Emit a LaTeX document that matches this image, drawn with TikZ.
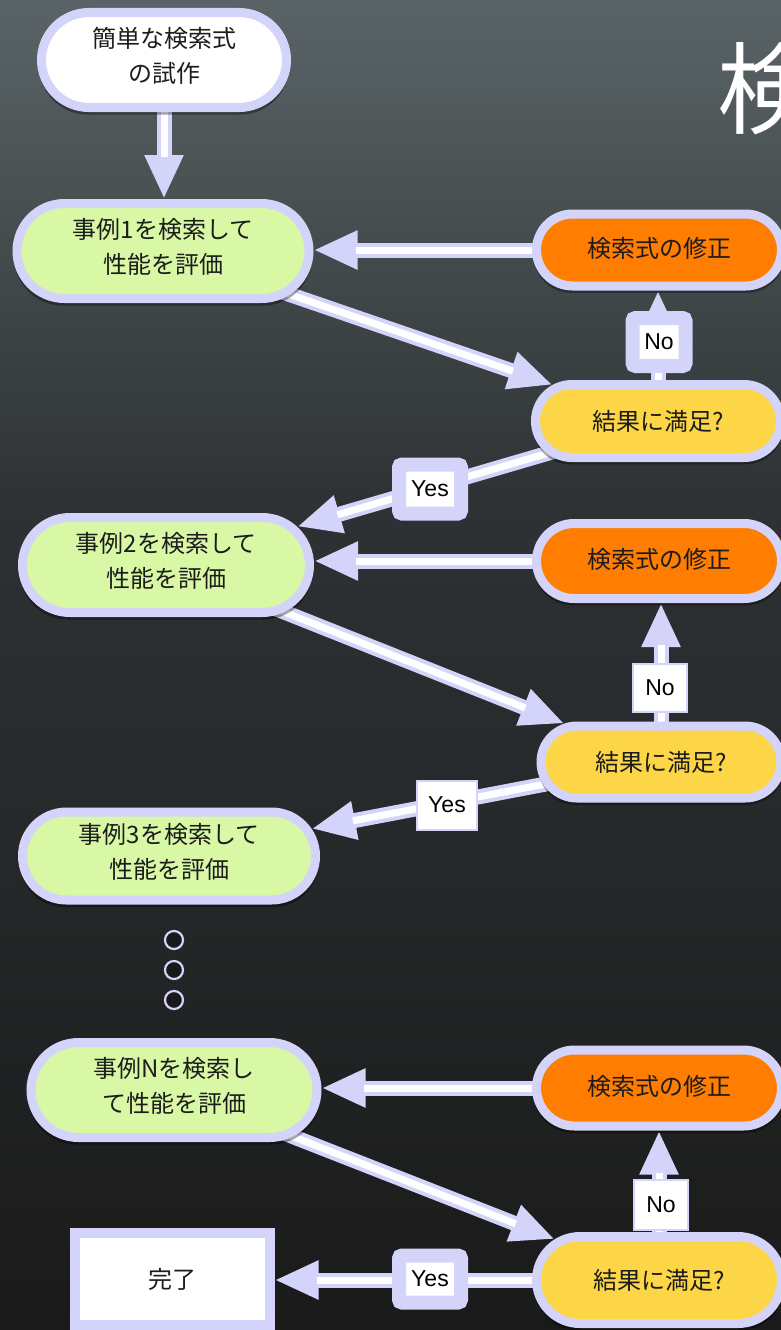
\documentclass[tikz,border=0pt]{standalone}
\usepackage{fontspec}
\setmainfont{Noto Sans CJK JP}
\newfontfamily\latfont{Liberation Sans}
\usetikzlibrary{shapes.misc,arrows.meta,shadows}
\definecolor{lav}{RGB}{212,212,250}
\definecolor{pgreen}{RGB}{216,248,166}
\definecolor{porange}{RGB}{255,125,0}
\definecolor{pyellow}{RGB}{252,214,70}
\definecolor{ink}{RGB}{28,28,28}
\definecolor{bgtop}{RGB}{90,100,102}
\definecolor{bgmid}{RGB}{46,50,52}
\definecolor{bgbot}{RGB}{26,26,26}
\pgfdeclarelayer{back}
\pgfdeclarelayer{links}
\pgfsetlayers{back,links,main}
\begin{document}
\begin{tikzpicture}[x=1pt,y=-1pt,
  shad/.style={general shadow={fill=black, opacity=0.35, shadow xshift=0pt, shadow yshift=-6pt, shadow scale=1.02}},
  pill/.style={rounded rectangle, draw=lav, line width=9pt, inner sep=0pt,
    align=center, text=ink, font=\fontsize{24}{35}\selectfont, shad},
  twoline/.style={text depth=11pt},
  oneline/.style={text depth=6pt},
  donebox/.style={rectangle, draw=lav, line width=10pt, fill=white, inner sep=0pt,
    text=ink, font=\fontsize{24}{35}\selectfont, minimum width=195pt, minimum height=92pt, shad},
  lblA/.style={rectangle, fill=white, draw=lav, line width=14pt, rounded corners=3pt,
    inner sep=0pt, text=black, font=\latfont\fontsize{23}{23}\selectfont},
  lblB/.style={rectangle, fill=white, draw=lav, line width=2pt,
    inner sep=0pt, text=black, font=\latfont\fontsize{23}{23}\selectfont},
  conn/.style={draw=lav, line width=15pt, shorten <=-12pt, -{Triangle[length=44pt,width=36pt]},
    postaction={draw=white, line width=7pt, -, shorten >=42pt}},
  dotc/.style={circle, draw=lav, line width=2.2pt, fill=black!90, minimum size=18pt, inner sep=0pt}
]
\useasboundingbox (0,0) rectangle (781,1330);
\begin{pgfonlayer}{back}
\fill[bgmid] (0,0) rectangle (781,1330);
\shade[top color=bgtop, bottom color=bgmid] (0,0) rectangle (781,500);
\shade[top color=bgmid, bottom color=bgbot] (0,500) rectangle (781,1330);
\end{pgfonlayer}

\node[anchor=base west, inner sep=0pt, text=white, font=\fontsize{100}{100}\selectfont] (title) at (717,126) {検};

\node[pill, twoline, fill=white, minimum width=245pt, minimum height=95pt] (start) at (164,60) {簡単な検索式\\の試作};
\node[pill, twoline, fill=pgreen, minimum width=292pt, minimum height=95pt] (c1) at (163,251) {事例1を検索して\\性能を評価};
\node[pill, oneline, fill=porange, minimum width=245pt, minimum height=72pt] (m1) at (659,250) {検索式の修正};
\node[pill, fill=pyellow, minimum width=245pt, minimum height=73pt] (r1) at (658,421) {結果に満足?};
\node[pill, twoline, fill=pgreen, minimum width=287pt, minimum height=95pt] (c2) at (166,565) {事例2を検索して\\性能を評価};
\node[pill, oneline, fill=porange, minimum width=245pt, minimum height=75pt] (m2) at (659,561) {検索式の修正};
\node[pill, fill=pyellow, minimum width=240pt, minimum height=72pt] (r2) at (661,762) {結果に満足?};
\node[pill, twoline, fill=pgreen, minimum width=293pt, minimum height=88pt] (c3) at (169,856) {事例3を検索して\\性能を評価};
\node[pill, twoline, fill=pgreen, minimum width=286pt, minimum height=95pt] (cN) at (174,1090) {事例Nを検索し\\て性能を評価};
\node[pill, oneline, fill=porange, minimum width=245pt, minimum height=76pt] (m3) at (659,1088) {検索式の修正};
\node[pill, fill=pyellow, minimum width=245pt, minimum height=87pt] (r3) at (659,1280) {結果に満足?};
\node[donebox] (done) at (172,1279) {完了};

\node[dotc] (d1) at (174,940) {};
\node[dotc] (d2) at (174,970) {};
\node[dotc] (d3) at (174,1000) {};

\node[lblA, minimum width=53pt, minimum height=48pt] (no1) at (659,342) {No};
\node[lblA, minimum width=62pt, minimum height=49pt] (yes1) at (430,489) {Yes};
\node[lblB, minimum width=54pt, minimum height=48pt] (no2) at (660,688) {No};
\node[lblB, minimum width=60pt, minimum height=49pt] (yes2) at (447,805) {Yes};
\node[lblB, minimum width=54pt, minimum height=50pt] (no3) at (661,1205) {No};
\node[lblA, minimum width=62pt, minimum height=47pt] (yes3) at (430,1279) {Yes};

\begin{pgfonlayer}{links}
\draw[conn] (start.south) -- (start.south |- c1.north);
\draw[conn] (m1.west) -- (m1.west -| c1.east);
\draw[conn] (c1) -- (r1);
\draw[conn] (r1.north) -- (r1.north |- m1.south);
\draw[conn] (r1) -- (c2);
\draw[conn] (m2.west) -- (m2.west -| c2.east);
\draw[conn] (c2) -- (r2);
\draw[conn] (r2.north) -- (r2.north |- m2.south);
\draw[conn] (r2) -- (c3);
\draw[conn] (m3.west) -- (m3.west -| cN.east);
\draw[conn] (cN) -- (r3);
\draw[conn] (r3.north) -- (r3.north |- m3.south);
\draw[conn] (r3.west) -- (r3.west -| done.east);
\end{pgfonlayer}
\end{tikzpicture}
\end{document}
